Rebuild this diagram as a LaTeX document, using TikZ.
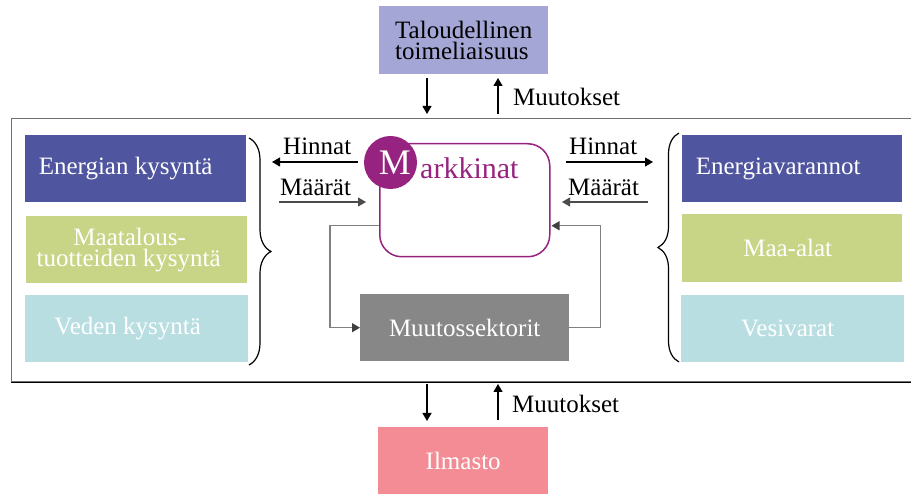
\documentclass[tikz,border=0pt]{standalone}
\usepackage{fontspec}
\setmainfont{Liberation Serif}
\usetikzlibrary{arrows.meta,decorations.pathreplacing,calc}
\definecolor{cblue}{HTML}{4F559F}
\definecolor{clav}{HTML}{A4A7D6}
\definecolor{cgreen}{HTML}{C9D586}
\definecolor{ccyan}{HTML}{B8DEE1}
\definecolor{cgray}{HTML}{878787}
\definecolor{cpink}{HTML}{F38C94}
\definecolor{cpurple}{HTML}{95237F}
\definecolor{framegray}{HTML}{707070}
\begin{document}
\begin{tikzpicture}[x=1pt,y=-1pt,
  box/.style={draw=none, inner sep=0pt, anchor=north west, text=white, align=center,
    font=\fontsize{25}{21}\selectfont},
  lab/.style={inner sep=0pt, anchor=base west, font=\fontsize{25}{25}\selectfont},
  arr/.style={line width=1.1pt, -{Triangle[length=8pt,width=9pt]}},
  conn/.style={draw=gray, line width=1.1pt, -{Triangle[length=8pt,width=9pt,color=black!75,fill=black!75]}},
  bracestyle/.style={line width=1.2pt, decorate}
]
\useasboundingbox (0,0) rectangle (911,494);

% outer frame
\node[draw=framegray, line width=1.4pt, minimum width=905pt, minimum height=263pt,
      inner sep=0pt, anchor=north west] (frame) at (11,118) {};
\draw[line width=1.1pt] (frame.south west) -- (frame.south east);

% top and bottom boxes
\node[box, fill=clav, text=black, align=left, minimum width=169pt, minimum height=68pt]
  (talous) at (379,6) {Taloudellinen\\toimeliaisuus};
\node[box, fill=cpink, minimum width=170pt, minimum height=67pt]
  (ilmasto) at (378,427) {Ilmasto};

% left boxes
\node[box, fill=cblue, minimum width=221pt, minimum height=67pt]
  (ek) at (25,135) {Energian kysyntä\hspace*{20pt}};
\node[box, fill=cgreen, minimum width=221pt, minimum height=67pt]
  (mk2) at (26,216) {Maatalous-\hspace*{14pt}\\tuotteiden kysyntä\hspace*{16pt}};
\node[box, fill=ccyan, minimum width=223pt, minimum height=67pt]
  (vk) at (25,295) {Veden kysyntä\hspace*{18pt}};

% right boxes
\node[box, fill=cblue, minimum width=220pt, minimum height=67pt]
  (ev) at (682,135) {Energiavarannot\hspace*{28pt}};
\node[box, fill=cgreen, minimum width=220pt, minimum height=68pt]
  (ma) at (682,214) {Maa-alat\hspace*{9pt}};
\node[box, fill=ccyan, minimum width=223pt, minimum height=67pt]
  (vv) at (681,295) {Vesivarat\hspace*{10pt}};

% Muutossektorit
\node[box, fill=cgray, minimum width=209pt, minimum height=67pt]
  (ms) at (360,294) {Muutossektorit};

% Markkinat
\node[draw=cpurple, line width=1.5pt, rounded corners=22pt, minimum width=170pt,
      minimum height=113pt, inner sep=0pt, anchor=north west] (mark) at (379,143) {};
\node[circle, fill=cpurple, minimum size=53pt, inner sep=0pt, text=white,
      font=\fontsize{36}{36}\selectfont] (mcirc) at (390.5,162.5) {\hspace*{9pt}M};
\node[lab, text=cpurple, font=\fontsize{30}{30}\selectfont] (mtext) at (420,179) {arkkinat};

% braces
\draw[bracestyle, decoration={brace, amplitude=22pt}] (249,138) -- (249,365);
\draw[bracestyle, decoration={brace, amplitude=21pt}] (679,362) -- (679,133);

% labels
\node[lab] (hl) at (283,155) {Hinnat};
\node[lab] (ml) at (280,196) {Määrät};
\node[lab] (hr) at (569,155) {Hinnat};
\node[lab] (mr) at (568,196) {Määrät};
\node[lab] (mt) at (513,106) {Muutokset};
\node[lab] (mb) at (512,413) {Muutokset};

% arrow endpoints
\coordinate (hl1) at (358,162); \coordinate (hl2) at (272,162);
\coordinate (ml1) at (279,202); \coordinate (ml2) at (366,202);
\coordinate (hr1) at (566,162); \coordinate (hr2) at (653,162);
\coordinate (mr1) at (648,202); \coordinate (mr2) at (562,202);
\coordinate (td1) at (427,78);  \coordinate (td2) at (427,114);
\coordinate (tu1) at (498,114); \coordinate (tu2) at (498,78);
\coordinate (bd1) at (427,384); \coordinate (bd2) at (427,421);
\coordinate (bu1) at (498,420); \coordinate (bu2) at (498,384);

\draw[arr] (hl1) -- (hl2);
\draw[arr, draw=black!70] (ml1) -- (ml2);
\draw[arr] (hr1) -- (hr2);
\draw[arr, draw=black!70] (mr1) -- (mr2);

% vertical arrows
\draw[arr] (td1) -- (td2);
\draw[arr] (tu1) -- (tu2);
\draw[arr] (bd1) -- (bd2);
\draw[arr] (bu1) -- (bu2);

% feedback loop
\draw[conn] ([yshift=-25.5pt]mark.west) -- ++(-49,0) |- (ms.west);
\draw[conn, shorten >=-1pt] (ms.east) -- ++(31,0) |- ([yshift=-25.5pt,xshift=2pt]mark.east);
\end{tikzpicture}
\end{document}
